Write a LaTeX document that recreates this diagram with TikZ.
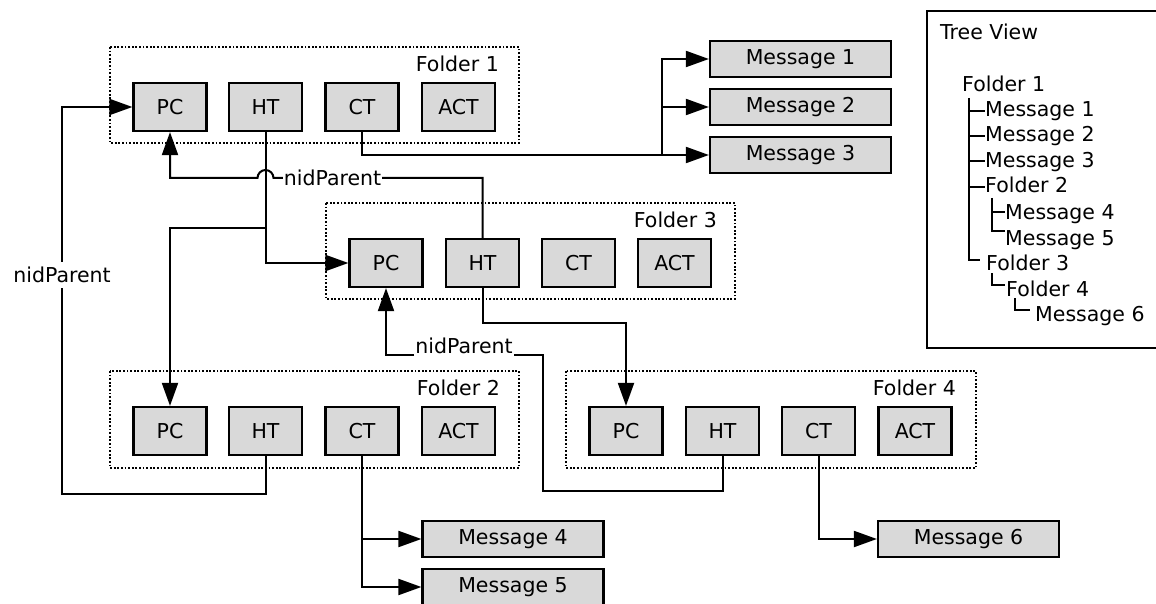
\documentclass[tikz,border=0pt]{standalone}
\usepackage{fontspec}
\setmainfont{DejaVu Sans}
\usetikzlibrary{arrows.meta}
\definecolor{boxgray}{RGB}{217,217,217}
\begin{document}
\begin{tikzpicture}[x=1pt,y=-1pt,
  fs/.style={font=\fontsize{20.5}{24}\selectfont},
  fld/.style={draw=black,line width=2.2pt,fill=boxgray,minimum width=73pt,minimum height=48pt,inner sep=0pt,fs},
  msg/.style={draw=black,line width=2.2pt,fill=boxgray,minimum width=181pt,minimum height=36pt,inner sep=0pt,fs},
  frame/.style={draw=black,line width=1.6pt,dash pattern=on 1.8pt off 1.8pt},
  lbl/.style={fs,inner sep=0pt,anchor=base east},
  conn/.style={draw=black,line width=2pt},
  arr/.style={conn,-{Triangle[length=23pt,width=16pt]}},
  tv/.style={fs,inner sep=0pt,anchor=base west},
  tl/.style={draw=black,line width=1.8pt}]
\useasboundingbox (0,0) rectangle (1156,604);
% folder frames
\draw[frame] (110,47) rectangle (519,143);
\node[lbl] (f1l) at (499,71.5) {Folder 1};
\draw[frame] (110,371) rectangle (519,468);
\node[lbl] (f2l) at (500,395) {Folder 2};
\draw[frame] (326,203) rectangle (735,299);
\node[lbl] (f3l) at (717,227) {Folder 3};
\draw[frame] (566,371) rectangle (976,468);
\node[lbl] (f4l) at (956,395) {Folder 4};
% boxes
\node[fld] (pc1) at (170,107) {PC};
\node[fld] (ht1) at (265.5,107) {HT};
\node[fld] (ct1) at (362,107) {CT};
\node[fld] (act1) at (458.5,107) {ACT};
\node[fld] (pc3) at (386,263) {PC};
\node[fld] (ht3) at (482.5,263) {HT};
\node[fld] (ct3) at (578.5,263) {CT};
\node[fld] (act3) at (674.5,263) {ACT};
\node[fld] (pc2) at (170,431) {PC};
\node[fld] (ht2) at (265.5,431) {HT};
\node[fld] (ct2) at (362,431) {CT};
\node[fld] (act2) at (458.5,431) {ACT};
\node[fld] (pc4) at (626,431) {PC};
\node[fld] (ht4) at (722.5,431) {HT};
\node[fld] (ct4) at (818.5,431) {CT};
\node[fld] (act4) at (915,431) {ACT};
% messages
\node[msg] (m1) at (800.5,59) {Message 1};
\node[msg] (m2) at (800.5,107) {Message 2};
\node[msg] (m3) at (800.5,155) {Message 3};
\node[msg] (m4) at (513,539) {Message 4};
\node[msg] (m5) at (513,587) {Message 5};
\node[msg] (m6) at (968.5,539) {Message 6};
% CT1 -> messages 1-3
\coordinate (b1) at (662,155);
\draw[arr] (ct1.south) |- (m3.west);
\draw[arr] (b1) |- (m2.west);
\draw[arr] (b1) |- (m1.west);
% HT1 -> PC3, PC2
\draw[arr] (ht1.south) |- (pc3.west);
\coordinate (j2) at (265.5,228);
\draw[arr] (j2) -| (pc2.north);
% HT3 -> PC1 (nidParent)
\coordinate (h1) at (273.5,178);
\draw[arr] (ht3.north) |- (h1) arc[start angle=0,end angle=180,radius=8pt] -| (pc1.south);
\node[fs,fill=white,inner sep=1pt] (np1) at (332.5,178) {nidParent};
% HT3 -> PC4
\coordinate (c0) at (482.5,323);
\draw[arr] (ht3.south) -- (c0) -| (pc4.north);
% HT4 -> PC3 (nidParent)
\node[fs,inner sep=1pt,anchor=base] (np3) at (464,353) {nidParent};
\coordinate (c1) at (543,491);
\coordinate (c2) at (543,355);
\draw[conn] (ht4.south) |- (c1) -- (c2) -- (c2 -| np3.east);
\draw[arr] (c2 -| np3.west) -| (pc3.south);
% HT2 -> PC1 (nidParent)
\coordinate (c3) at (62,494);
\draw[arr] (ht2.south) |- (c3) |- (pc1.west);
\node[fs,fill=white,inner sep=0pt,minimum height=26pt] (np2) at (62,275) {nidParent};
% CT2 -> messages 4,5
\draw[arr] (ct2.south) |- (m5.west);
\coordinate (b2) at (362,539);
\draw[arr] (b2) -- (m4.west);
% CT4 -> message 6
\draw[arr] (ct4.south) |- (m6.west);
% tree view
\draw[tl] (927,11) rectangle (1175,348);
\node[tv] (tvt) at (940,40) {Tree View};
\node[tv] (t1) at (962,91.5) {Folder 1};
\node[tv] (t2) at (985,117) {Message 1};
\node[tv] (t3) at (985,142) {Message 2};
\node[tv] (t4) at (985,167.5) {Message 3};
\node[tv] (t5) at (985,193) {Folder 2};
\node[tv] (t6) at (1005,219) {Message 4};
\node[tv] (t7) at (1005,245) {Message 5};
\node[tv] (t8) at (986,270) {Folder 3};
\node[tv] (t9) at (1006,296) {Folder 4};
\node[tv] (t10) at (1035,321.5) {Message 6};
\draw[tl] (969,98) -- (969,260) -- (980,260);
\draw[tl] (969,111) -- (985,111);
\draw[tl] (969,136) -- (985,136);
\draw[tl] (969,161) -- (985,161);
\draw[tl] (969,187) -- (985,187);
\draw[tl] (992,198) -- (992,231) -- (1005,231);
\draw[tl] (992,212) -- (1005,212);
\draw[tl] (992,273) -- (992,285) -- (1005,285);
\draw[tl] (1015,298) -- (1015,310) -- (1030,310);
\end{tikzpicture}
\end{document}
